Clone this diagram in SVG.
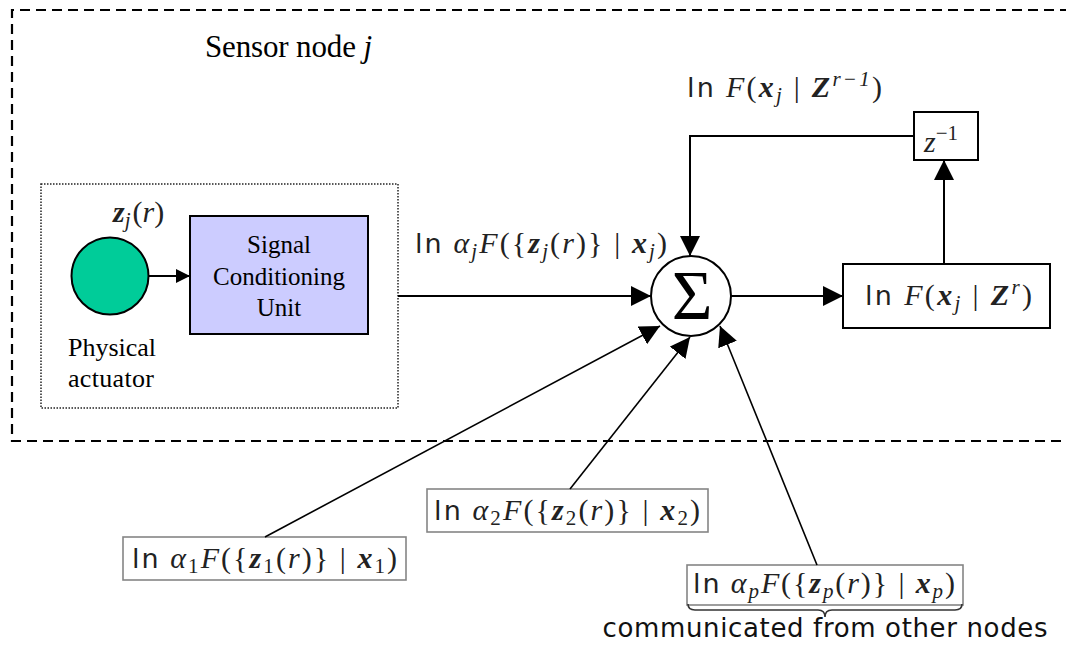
<svg xmlns="http://www.w3.org/2000/svg" width="1066" height="646" viewBox="0 0 1066 646">
  <defs>
    <style>
      .serif { font-family: "Liberation Serif", "Times New Roman", serif; fill: #000; }
      .math { font-family: "Liberation Serif", "Times New Roman", serif; font-size: 30px; fill: #222; }
      .sf { font-family: "DejaVu Sans", "Liberation Sans", sans-serif; font-style: normal; font-weight: normal; font-size: 27px; }
      .it { font-style: italic; }
      .bi { font-style: italic; font-weight: bold; }
      .sub { font-style: italic; font-size: 21px; }
      .up { font-size: 21px; }
      .line { fill: none; stroke: #000; stroke-width: 2; }
      .thin { fill: none; stroke: #000; stroke-width: 1.6; }
      .box { fill: #fff; stroke: #000; stroke-width: 2; }
      .gbox { fill: #fff; stroke: #858585; stroke-width: 1.6; }
    </style>
    <marker id="ah" markerUnits="userSpaceOnUse" markerWidth="20" markerHeight="20" refX="20" refY="10" orient="auto">
      <path d="M0,0 L20,10 L0,20 z" fill="#000"/>
    </marker>
    <marker id="ahs" markerUnits="userSpaceOnUse" markerWidth="14" markerHeight="14" refX="14" refY="7" orient="auto">
      <path d="M0,0 L14,7 L0,14 z" fill="#000"/>
    </marker>
  </defs>

  <rect width="1066" height="646" fill="#fff"/>

  <!-- sensor node boundary (open at the right edge) -->
  <g id="sensor-node">
    <path d="M1070,10 H12 V441 H1070" fill="none" stroke="#000" stroke-width="2.2" stroke-dasharray="10 6"/>
    <text class="serif" x="205" y="57" font-size="31" textLength="167">Sensor node <tspan font-style="italic">j</tspan></text>
  </g>

  <!-- local sensing block -->
  <g id="sensing-block">
    <rect x="41" y="184" width="357" height="224" fill="none" stroke="#222" stroke-width="1.5" stroke-dasharray="1.5 1.5"/>
  </g>

  <g id="actuator">
    <circle cx="110" cy="276" r="38.5" fill="#00CC99" stroke="#000" stroke-width="2"/>
    <text class="math" x="113" y="222"><tspan class="bi">z</tspan><tspan class="sub" dy="5">j</tspan><tspan dy="-5" dx="2">(</tspan><tspan class="it">r</tspan>)</text>
    <text class="serif" x="68" y="356" font-size="26" textLength="88">Physical</text>
    <text class="serif" x="68" y="387" font-size="26" textLength="86">actuator</text>
  </g>

  <g id="signal-conditioning">
    <rect x="190" y="216" width="178" height="118" fill="#CCCCFF" stroke="#000" stroke-width="2"/>
    <text class="serif" x="279" y="253" font-size="25" text-anchor="middle">Signal</text>
    <text class="serif" x="279" y="285" font-size="25" text-anchor="middle">Conditioning</text>
    <text class="serif" x="279" y="316" font-size="25" text-anchor="middle">Unit</text>
  </g>

  <g id="summer">
    <circle cx="691" cy="296" r="40" fill="#fff" stroke="#000" stroke-width="2"/>
    <text class="serif" x="692" y="319" font-size="70" text-anchor="middle">Σ</text>
  </g>

  <g id="posterior">
    <rect class="box" x="843" y="264" width="207" height="64"/>
    <text class="math" x="865" y="305" textLength="167"><tspan class="sf">ln</tspan><tspan class="it"> F</tspan>(<tspan class="bi">x</tspan><tspan class="sub" dy="5">j</tspan><tspan dy="-5"> | </tspan><tspan class="bi">Z</tspan><tspan class="sub" dy="-11">r</tspan><tspan dy="11">)</tspan></text>
  </g>

  <g id="delay">
    <rect class="box" x="914" y="112" width="64" height="48"/>
    <text class="math" x="924" y="152" font-size="28"><tspan class="it">z</tspan><tspan class="up" font-size="24" dy="-12">−1</tspan></text>
  </g>

  <g id="prior-label">
    <text class="math" x="687" y="97" textLength="195"><tspan class="sf">ln</tspan><tspan class="it"> F</tspan>(<tspan class="bi">x</tspan><tspan class="sub" dy="5">j</tspan><tspan dy="-5"> | </tspan><tspan class="bi">Z</tspan><tspan class="sub" dy="-11">r−1</tspan><tspan dy="11">)</tspan></text>
  </g>

  <g id="local-likelihood">
    <text class="math" x="415" y="253" textLength="252"><tspan class="sf">ln</tspan><tspan class="it"> α</tspan><tspan class="sub" dy="5">j</tspan><tspan class="it" dy="-5">F</tspan>({<tspan class="bi">z</tspan><tspan class="sub" dy="5">j</tspan><tspan dy="-5">(</tspan><tspan class="it">r</tspan>)} | <tspan class="bi">x</tspan><tspan class="sub" dy="5">j</tspan><tspan dy="-5">)</tspan></text>
  </g>

  <g id="remote-1">
    <rect class="gbox" x="123" y="537" width="283" height="43"/>
    <text class="math" x="132" y="568" textLength="265"><tspan class="sf">ln</tspan><tspan class="it"> α</tspan><tspan class="up" dy="5">1</tspan><tspan class="it" dy="-5">F</tspan>({<tspan class="bi">z</tspan><tspan class="up" dy="5">1</tspan><tspan dy="-5">(</tspan><tspan class="it">r</tspan>)} | <tspan class="bi">x</tspan><tspan class="up" dy="5">1</tspan><tspan dy="-5">)</tspan></text>
  </g>

  <g id="remote-2">
    <rect class="gbox" x="427" y="489" width="281" height="43"/>
    <text class="math" x="434" y="520" textLength="266"><tspan class="sf">ln</tspan><tspan class="it"> α</tspan><tspan class="up" dy="5">2</tspan><tspan class="it" dy="-5">F</tspan>({<tspan class="bi">z</tspan><tspan class="up" dy="5">2</tspan><tspan dy="-5">(</tspan><tspan class="it">r</tspan>)} | <tspan class="bi">x</tspan><tspan class="up" dy="5">2</tspan><tspan dy="-5">)</tspan></text>
  </g>

  <g id="remote-p">
    <rect class="gbox" x="687" y="565" width="276" height="40"/>
    <text class="math" x="693" y="593" textLength="262"><tspan class="sf">ln</tspan><tspan class="it"> α</tspan><tspan class="sub" dy="5">p</tspan><tspan class="it" dy="-5">F</tspan>({<tspan class="bi">z</tspan><tspan class="sub" dy="5">p</tspan><tspan dy="-5">(</tspan><tspan class="it">r</tspan>)} | <tspan class="bi">x</tspan><tspan class="sub" dy="5">p</tspan><tspan dy="-5">)</tspan></text>
    <path d="M688,604 q0,6 7,6 H818 q7,0 7,7 q0,-7 7,-7 H955 q7,0 7,-6" fill="none" stroke="#333" stroke-width="1.6"/>
    <text x="825" y="637" text-anchor="middle" font-family="DejaVu Sans, Liberation Sans, sans-serif" font-size="26" fill="#111" textLength="445">communicated from other nodes</text>
  </g>

  <!-- signal flow -->
  <g id="connectors">
    <line class="line" x1="149" y1="276" x2="190" y2="276" marker-end="url(#ahs)"/>
    <line class="line" x1="398" y1="296" x2="651" y2="296" marker-end="url(#ah)"/>
    <line class="line" x1="731" y1="296" x2="843" y2="296" marker-end="url(#ah)"/>
    <line class="line" x1="944" y1="264" x2="944" y2="160" marker-end="url(#ah)"/>
    <polyline class="line" points="914,136 690,136 690,256" marker-end="url(#ah)"/>
    <line class="thin" x1="265" y1="537" x2="660" y2="326" marker-end="url(#ah)"/>
    <line class="thin" x1="570" y1="489" x2="690" y2="337" marker-end="url(#ah)"/>
    <line class="thin" x1="817" y1="565" x2="720" y2="326" marker-end="url(#ah)"/>
  </g>
</svg>
